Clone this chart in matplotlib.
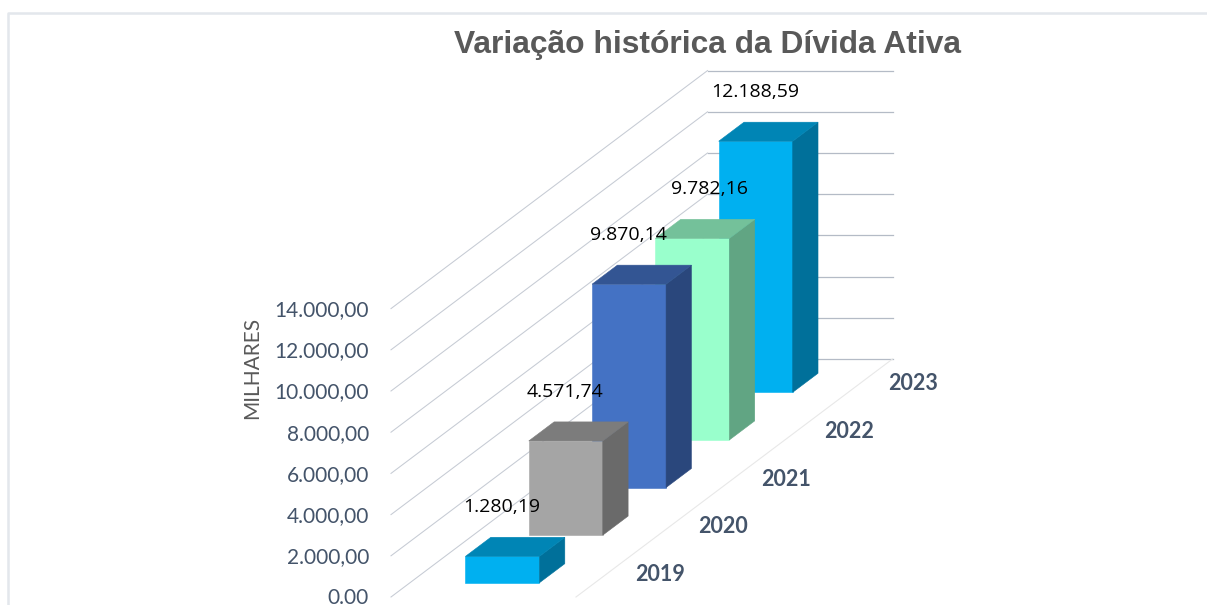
import matplotlib
matplotlib.use("Agg")
import matplotlib.pyplot as plt
from matplotlib.patches import Polygon

years = ["2019", "2020", "2021", "2022", "2023"]
values = [1280.19, 4571.74, 9870.14, 9782.16, 12188.59]
value_labels = ["1.280,19", "4.571,74", "9.870,14", "9.782,16", "12.188,59"]
tick_values = [0, 2000, 4000, 6000, 8000, 10000, 12000, 14000]
tick_labels = ["0.00", "2.000,00", "4.000,00", "6.000,00", "8.000,00",
               "10.000,00", "12.000,00", "14.000,00"]

# front, side, top
colors = [("#00B0F0", "#00709A", "#0085B5"),
          ("#A5A5A5", "#6A6A6A", "#7C7C7C"),
          ("#4472C4", "#2A477C", "#335593"),
          ("#99FFCC", "#61A583", "#74C19A"),
          ("#00B0F0", "#00709A", "#0085B5")]

# layout of the fake 3d box, in pixels
x0, y0 = 391, 597
box_w = 185
depth_x, depth_y = 316.5, -238
px_per_unit = 41.2 / 2000
bar_w = 0.40   # of box width
bar_d = 0.40   # of one category band
label_dx = [0, 0, 0, 18, 0]


def project(x, d, v):
    # x: 0-1 across, d: 0-1 into the chart, v: value
    return (x0 + x * box_w + d * depth_x,
            y0 + d * depth_y - v * px_per_unit)


fig = plt.figure(figsize=(12.07, 6.05), dpi=100)
ax = fig.add_axes([0, 0, 1, 1])
ax.set_xlim(0, 1207)
ax.set_ylim(605, 0)
ax.axis("off")

# frame of the screenshot
ax.plot([8, 8, 1207], [605, 12.5, 12.5], color="#E3E7EC", lw=1.8)

ax.text(708, 45, "Variação histórica da Dívida Ativa", ha="center", va="center",
        family="Liberation Sans", weight="bold", fontsize=22.9, color="#595959")

for v, lab in zip(tick_values, tick_labels):
    xa, ya = project(0, 0, v)
    xb, yb = project(0, 1, v)
    xc, yc = project(1, 1, v)
    ax.plot([xa, xb], [ya, yb], color="#C6CBD4", lw=0.75, zorder=1)
    ax.plot([xb, xc], [yb, yc], color="#B4BBC6", lw=0.9, zorder=1)
    ax.text(369, ya + 1.5, lab, ha="right", va="center", family="Lato",
            fontsize=15, color="#44546A")

# floor edge
xa, ya = project(1, 0, 0)
xb, yb = project(1, 1, 0)
ax.plot([xa, xb], [ya, yb], color="#E8E8E8", lw=0.8, zorder=1)

ax.text(252, 368, "MILHARES", rotation=90, ha="center", va="center",
        family="Lato", fontsize=15, color="#595959")

n = len(values)
for i in range(n - 1, -1, -1):
    v = values[i]
    front, side, top = colors[i]
    left = (1 - bar_w) / 2
    right = left + bar_w
    d1 = (i + (1 - bar_d) / 2) / n
    d2 = (i + (1 + bar_d) / 2) / n
    z = 3 + (n - i)
    ax.add_patch(Polygon([project(left, d1, 0), project(right, d1, 0),
                          project(right, d1, v), project(left, d1, v)],
                         fc=front, ec=front, lw=0.4, zorder=z))
    ax.add_patch(Polygon([project(right, d1, 0), project(right, d2, 0),
                          project(right, d2, v), project(right, d1, v)],
                         fc=side, ec=side, lw=0.4, zorder=z))
    ax.add_patch(Polygon([project(left, d1, v), project(right, d1, v),
                          project(right, d2, v), project(left, d2, v)],
                         fc=top, ec=top, lw=0.4, zorder=z))

    tx, ty = project(0.5, d1, v)
    ax.text(tx - 1 + label_dx[i], ty - 49, value_labels[i], ha="center", va="center",
            family="Open Sans", fontsize=14, color="black", zorder=20)

    cx, cy = project(1, (i + 0.5) / n, 0)
    ax.text(cx + 52, cy + 1, years[i], ha="center", va="center", family="Lato",
            weight="bold", fontsize=15.5, color="#44546A")

plt.savefig("out.png", dpi=100)
plt.close()
